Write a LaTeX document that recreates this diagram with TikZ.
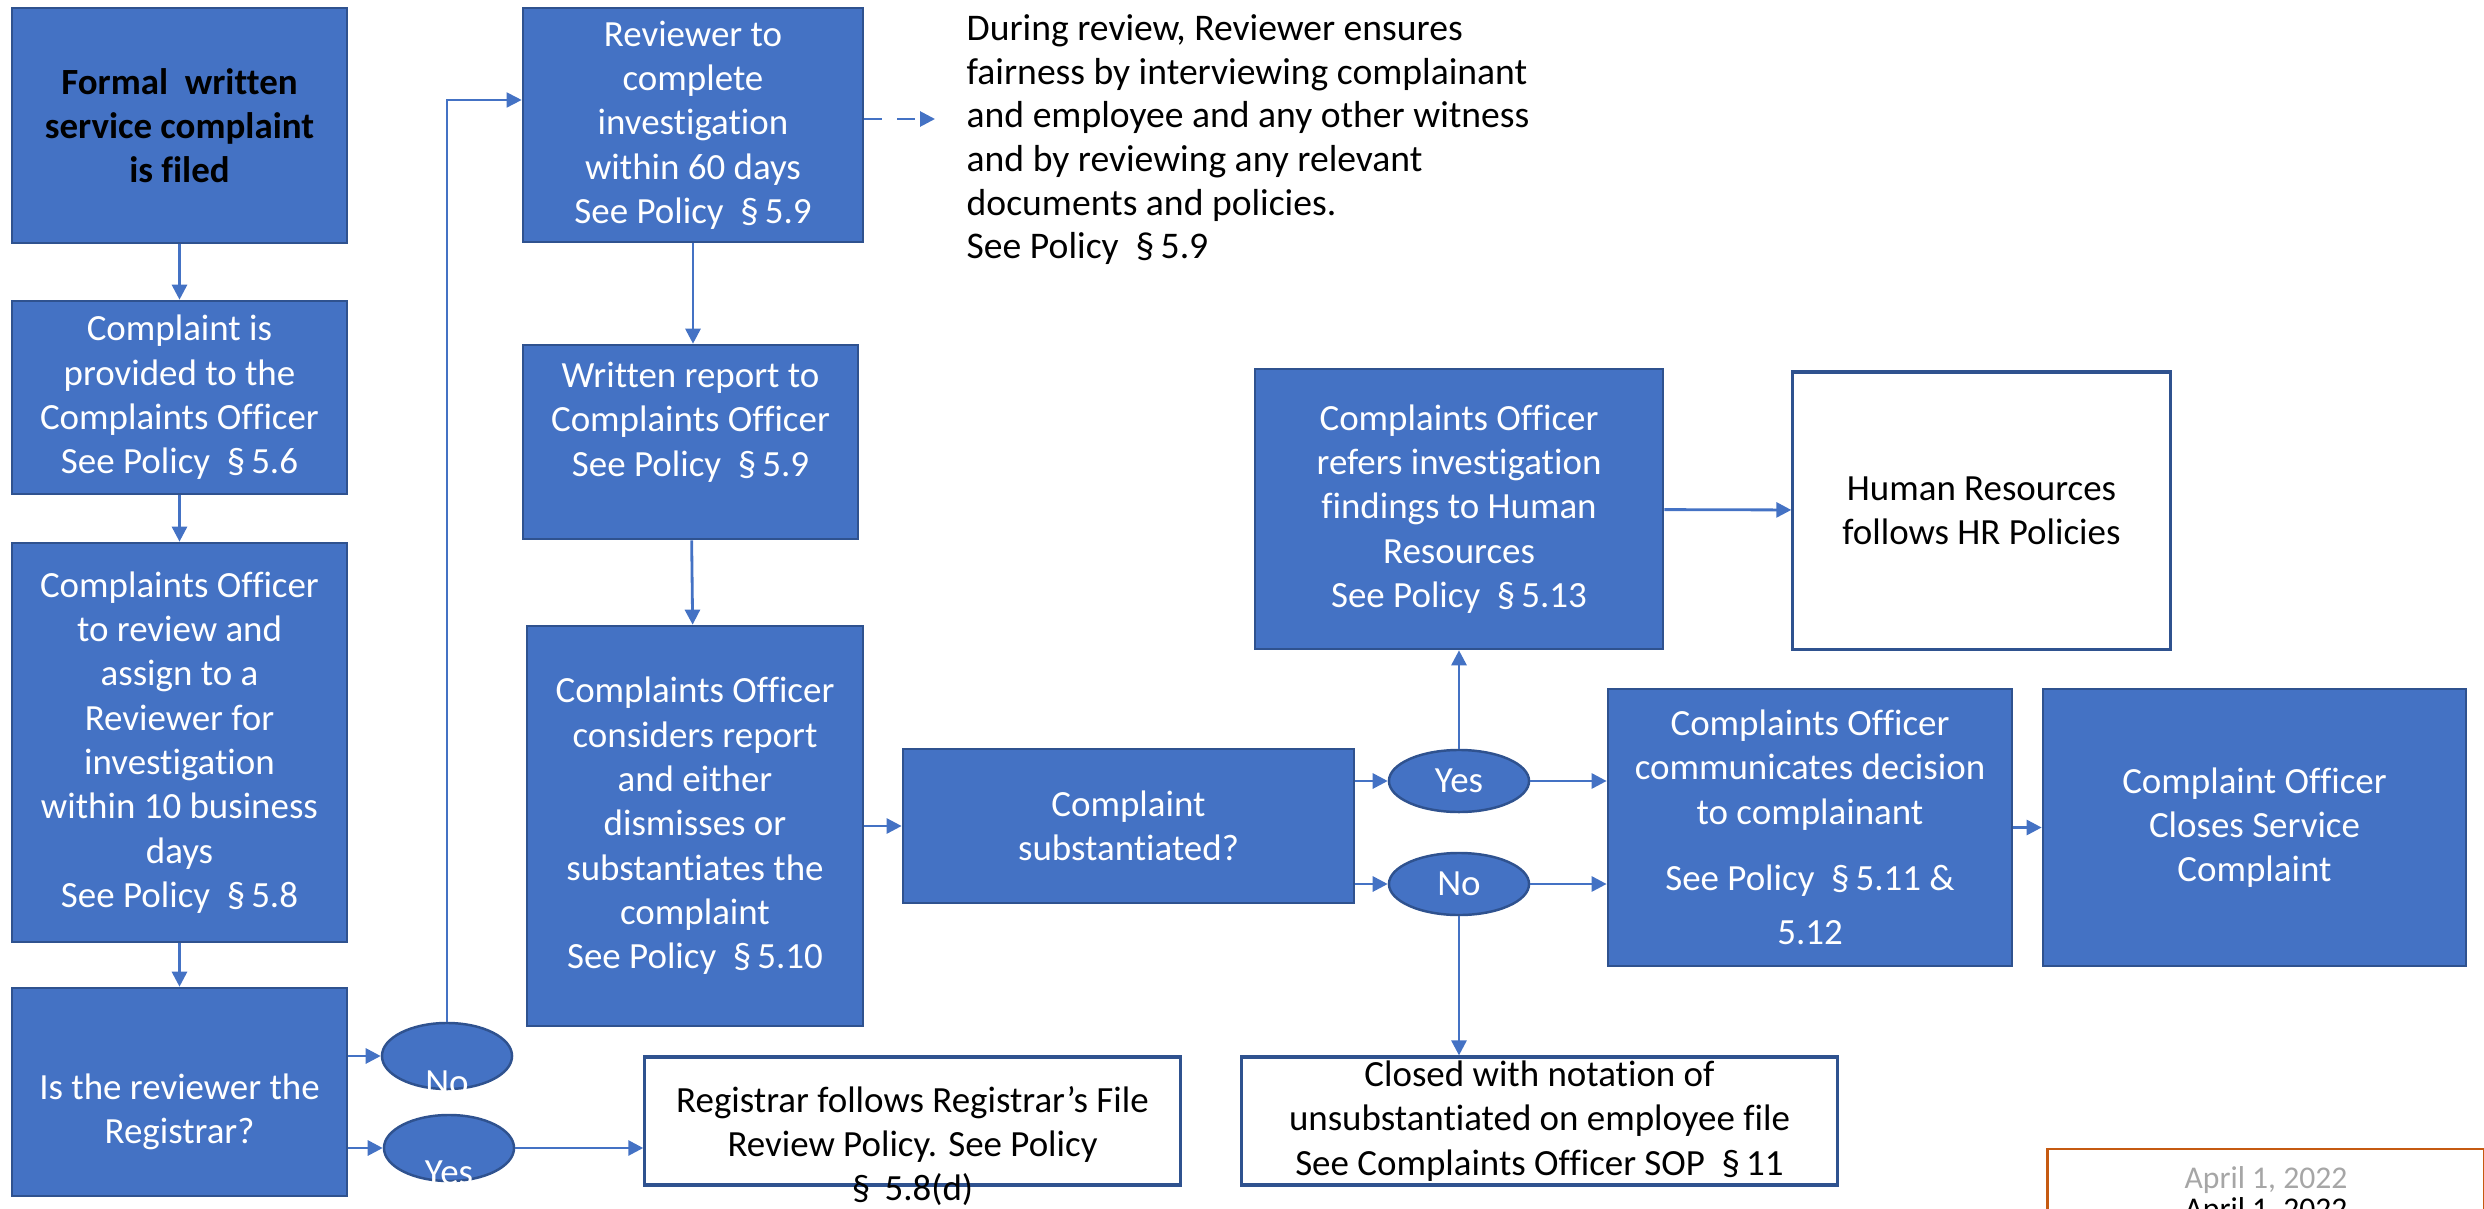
\documentclass[tikz,border=0pt]{standalone}
\usepackage{fontspec}
\setmainfont{Carlito}[Ligatures=NoCommon]
\usetikzlibrary{arrows.meta,shapes.geometric}
\definecolor{offblue}{HTML}{4472C4}
\definecolor{edgeblue}{HTML}{2F528F}
\definecolor{dateedge}{HTML}{C55A11}
\tikzset{
	boxfont/.style={font=\fontsize{10.5}{12.6}\selectfont},
	bluebox/.style={draw=edgeblue, fill=offblue, line width=0.7pt, text=white, align=center, inner sep=0pt, boxfont},
	whitebox/.style={draw=edgeblue, fill=white, line width=0.9pt, text=black, align=center, inner sep=0pt, boxfont},
	choice/.style={ellipse, draw=edgeblue, fill=offblue, line width=0.7pt, text=white, inner sep=0pt, minimum width=1.3cm, minimum height=0.66cm, boxfont},
	lowtext/.style={text=white, align=center, boxfont},
	flow/.style={draw=offblue, line width=0.8pt, -{Triangle[length=0.15cm, width=0.15cm]}},
}
\begin{document}
\begin{tikzpicture}[x=0.01cm, y=-0.01cm]
	\useasboundingbox (0,0) rectangle (2484,1209);
	\node[bluebox, text=black, font=\fontsize{10.5}{12.6}\selectfont\bfseries, minimum width=3.35cm, minimum height=2.35cm] (filed) at (179.5,125.5) {Formal\ \ written\\service complaint\\is filed};
	\node[bluebox, minimum width=3.35cm, minimum height=1.93cm] (provided) at (179.5,397.5) {Complaint is\\provided to the\\Complaints Officer\\See Policy~~§\,5.6};
	\node[bluebox, minimum width=3.35cm, minimum height=3.99cm] (assign) at (179.5,742.5) {Complaints Officer\\to review and\\assign to a\\Reviewer for\\investigation\\within 10 business\\days\\See Policy~~§\,5.8};
	\node[bluebox, minimum width=3.35cm, minimum height=2.08cm, label={[lowtext, yshift=-0.2cm]center:{Is the reviewer the\\Registrar?}}] (registrar) at (179.5,1092) {};
	\node[choice, label={[lowtext, yshift=-0.27cm]center:No}] (no1) at (447,1056) {};
	\node[choice, label={[lowtext, yshift=-0.25cm]center:Yes}] (yes1) at (449,1148) {};
	\node[whitebox, minimum width=5.35cm, minimum height=1.28cm, label={[align=center, boxfont, yshift=-0.25cm]center:{Registrar follows Registrar’s File\\Review Policy. See Policy\\§\,~5.8(d)}}] (rfile) at (912.5,1121) {};
	\node[bluebox, minimum width=3.4cm, minimum height=2.34cm] (complete) at (693,125) {Reviewer to\\complete\\investigation\\within 60 days\\See Policy~~§\,5.9};
	\node[anchor=north west, align=left, inner sep=0pt, font=\fontsize{10.7}{12.4}\selectfont] (during) at (966,14) {During review, Reviewer ensures\\fairness by interviewing complainant\\and employee and any other witness\\and by reviewing any relevant\\documents and policies.\\See Policy~~§\,5.9};
	\coordinate (ftip) at (935,119);
	\node[bluebox, minimum width=3.35cm, minimum height=1.94cm, label={[lowtext, yshift=0.2cm]center:{Written report to\\Complaints Officer\\See Policy~~§\,5.9}}] (written) at (690.5,442) {};
	\node[bluebox, minimum width=3.36cm, minimum height=4cm] (considers) at (695,826) {Complaints Officer\\considers report\\and either\\dismisses or\\substantiates the\\complaint\\See Policy~~§\,5.10};
	\node[bluebox, minimum width=4.51cm, minimum height=1.54cm] (subst) at (1128.5,826) {Complaint\\substantiated?};
	\node[choice, minimum width=1.4cm, minimum height=0.62cm] (yes2) at (1459,781) {Yes};
	\node[choice, minimum width=1.4cm, minimum height=0.62cm] (no2) at (1459,884) {No};
	\node[bluebox, minimum width=4.08cm, minimum height=2.8cm] (refers) at (1459,509) {Complaints Officer\\refers investigation\\findings to Human\\Resources\\See Policy~~§\,5.13};
	\node[whitebox, minimum width=3.77cm, minimum height=2.77cm] (hr) at (1981.5,510.5) {Human Resources\\follows HR Policies};
	\node[bluebox, minimum width=4.04cm, minimum height=2.77cm] (comm) at (1810,827.5) {Complaints Officer\\communicates decision\\to complainant\\[0.22cm]See Policy~~§\,5.11 \&\\[0.1cm]5.12};
	\node[bluebox, minimum width=4.23cm, minimum height=2.77cm] (closes) at (2254.5,827.5) {Complaint Officer\\Closes Service\\Complaint};
	\node[whitebox, minimum width=5.95cm, minimum height=1.28cm] (closed) at (1539.5,1121) {Closed with notation of\\unsubstantiated on employee file\\See Complaints Officer SOP~~§\,11};
	\node[draw=dateedge, line width=0.8pt, minimum width=4.36cm, minimum height=1.1cm] (datebox) at (2266,1204) {};
	\node[anchor=north, align=center, inner sep=0pt, font=\fontsize{9}{7.4}\selectfont] (date) at (2266,1166) {\textcolor{black!35}{April 1, 2022}\\April 1, 2022};
	\draw[flow] (filed) -- (provided);
	\draw[flow] (provided) -- (assign);
	\draw[flow] (assign) -- (registrar);
	\draw[flow] (registrar.east |- no1) -- (no1);
	\draw[flow] (registrar.east |- yes1) -- (yes1);
	\draw[flow, line width=0.5pt] (no1.north) |- ([yshift=0.25cm]complete.west);
	\draw[flow] (yes1) -- (yes1 -| rfile.west);
	\draw[flow, dash pattern=on 0.18cm off 0.15cm] (complete.east |- ftip) -- (ftip);
	\draw[flow] (complete) -- (complete.south |- written.north);
	\draw[flow] (written) -- (considers);
	\draw[flow] (considers) -- (subst);
	\draw[flow] (subst.east |- yes2) -- (yes2);
	\draw[flow] (subst.east |- no2) -- (no2);
	\draw[flow] (yes2) -- (yes2 -| comm.west);
	\draw[flow] (no2) -- (no2 -| comm.west);
	\draw[flow] (yes2) -- (refers);
	\draw[flow] (no2) -- (no2 |- closed.north);
	\draw[flow] (refers) -- (hr);
	\draw[flow] (comm) -- (closes);
\end{tikzpicture}
\end{document}
